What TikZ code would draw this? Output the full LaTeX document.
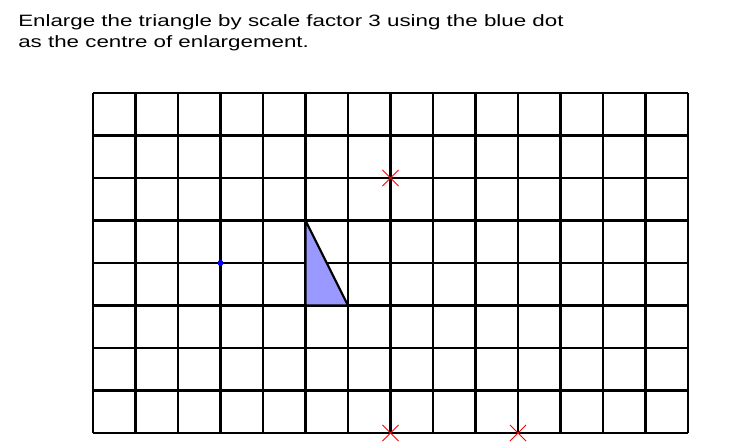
\documentclass[tikz,border=0pt]{standalone}
\usepackage{fontspec}
\setmainfont{Liberation Sans}
\usetikzlibrary{positioning}
\usetikzlibrary{shapes.misc}

\begin{document}
\begin{tikzpicture}
\useasboundingbox (-2.188,-0.329) rectangle (15.271,10.188);
\tikzset{gridline/.style={line width=1.4pt},
  crossmark/.style={shape=cross out,draw=red,line width=0.5pt,minimum size=0.36cm,inner sep=0pt}}
\draw [gridline] (0,0) grid (14,8);
\path
(5,3) coordinate (p)
(5,5) coordinate (q)
(6,3) coordinate (r)
(3,4) node [shape=circle,fill=blue,inner sep=0pt,minimum size=0.14cm](centre) {}
(7,6) node [crossmark](x1) {}
(7,0) node [crossmark](x2) {}
(10,0) node [crossmark](x3) {};
\draw [line width=1.4pt,fill={rgb,255:red,153;green,153;blue,255},line join=round](p) --(q) --(r) --cycle;
\node [anchor=north west,inner sep=0pt] (task) at (-1.765,9.84)
{\scalebox{1.36}[1]{\parbox[t]{12cm}{\fontsize{11}{14}\selectfont Enlarge the triangle by scale factor 3 using the blue dot\\as the centre of enlargement.}}};
\end{tikzpicture}
\end{document}
